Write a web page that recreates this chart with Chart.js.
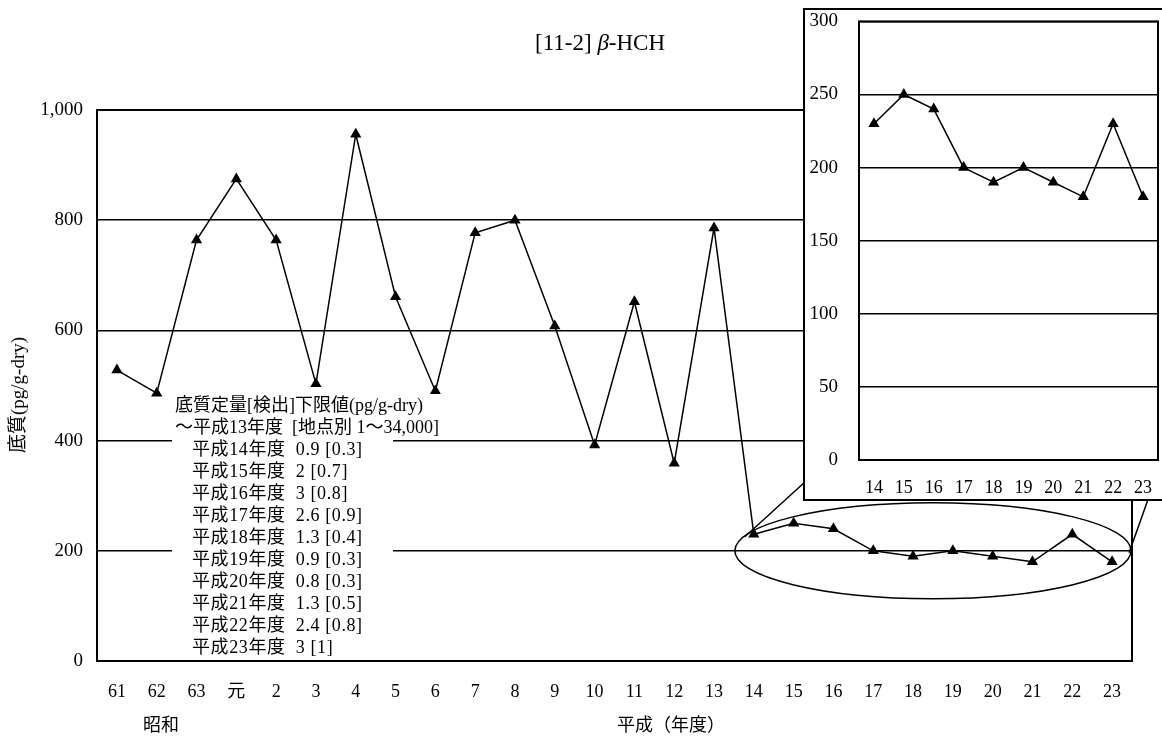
<!DOCTYPE html>
<html>
<head>
<meta charset="utf-8">
<script src="https://cdn.jsdelivr.net/npm/chart.js@4"></script>
<style>
  html, body { margin: 0; padding: 0; background: #fff; overflow: hidden; }
  body { width: 1162px; height: 739px; position: relative; font-family: "Liberation Serif", "Noto Sans CJK JP", serif; color: #000; }
  #main { position: absolute; left: 0; top: 0; width: 1162px; height: 739px; }
  .txt { position: absolute; white-space: pre; font-size: 18px; line-height: 22px; }
  #title { left: 535px; top: 30px; font-size: 23px; line-height: 26px; }
  #ytitle { left: 18px; top: 395px; font-size: 19px; transform: translate(-50%, -50%) rotate(-90deg); }
  #note { position: absolute; left: 172px; top: 394px; }
  #note div { white-space: pre; font-size: 18px; line-height: 22px; background: #fff; }
  #note .top { width: 316px; padding-left: 3px; box-sizing: border-box; }
  #note .sub { width: 221px; padding-left: 20px; box-sizing: border-box; letter-spacing: 0.6px; }
  #insetBox { position: absolute; left: 803px; top: 8px; width: 370px; height: 493px; border: 2px solid #000; box-sizing: border-box; background: #fff; }
  #inset { display: block; width: 366px; height: 489px; }
</style>
</head>
<body>
<canvas id="main" width="1162" height="739"></canvas>

<div id="title" class="txt">[11-2] <i>β</i>-HCH</div>
<div id="ytitle" class="txt">底質(pg/g-dry)</div>
<div class="txt" style="left:143px; top:714px;">昭和</div>
<div class="txt" style="left:617px; top:714px;">平成（年度）</div>

<div id="note">
  <div class="top">底質定量[検出]下限値(pg/g-dry)</div>
  <div class="top">～平成13年度  [地点別 1～34,000]</div>
  <div class="sub">平成14年度  0.9 [0.3]</div>
  <div class="sub">平成15年度  2 [0.7]</div>
  <div class="sub">平成16年度  3 [0.8]</div>
  <div class="sub">平成17年度  2.6 [0.9]</div>
  <div class="sub">平成18年度  1.3 [0.4]</div>
  <div class="sub">平成19年度  0.9 [0.3]</div>
  <div class="sub">平成20年度  0.8 [0.3]</div>
  <div class="sub">平成21年度  1.3 [0.5]</div>
  <div class="sub">平成22年度  2.4 [0.8]</div>
  <div class="sub">平成23年度  3 [1]</div>
</div>

<div id="insetBox"><canvas id="inset" width="366" height="489"></canvas></div>

<script>
// 年度ラベル (昭和61 ～ 平成23)
const categories = ['61', '62', '63', '元', '2', '3', '4', '5', '6', '7', '8', '9', '10',
  '11', '12', '13', '14', '15', '16', '17', '18', '19', '20', '21', '22', '23']
// 底質 pg/g-dry
const values = [528, 486, 764, 875, 764, 503, 956, 661, 490, 777, 800, 608, 392,
  652, 359, 786, 230, 250, 240, 200, 190, 200, 190, 180, 230, 180]

// 拡大図 (平成14 ～ 23)
const insetCategories = ['14', '15', '16', '17', '18', '19', '20', '21', '22', '23']
const insetValues = [230, 250, 240, 200, 190, 200, 190, 180, 230, 180]

const mainTicks = { min: 0, max: 1000, step: 200 }
const insetTicks = { min: 0, max: 300, step: 50 }

const FONT = '"Liberation Serif", "Noto Sans CJK JP", serif'

// プロット枠
const boxPlugin = {
  id: 'box',
  afterDraw(chart) {
    const { ctx, chartArea: a } = chart
    ctx.save()
    ctx.strokeStyle = '#000'
    ctx.lineWidth = 2
    ctx.strokeRect(a.left, a.top, a.right - a.left, a.bottom - a.top)
    ctx.restore()
  }
}

// 平成14～23 を囲む楕円と拡大図への引出線
const ellipsePlugin = {
  id: 'ellipse',
  afterDatasetsDraw(chart) {
    const { ctx, scales } = chart
    const x0 = scales.x.getPixelForValue(16)
    const x1 = scales.x.getPixelForValue(25)
    const cx = (x0 + x1) / 2
    const cy = scales.y.getPixelForValue(200)
    const rx = (x1 - x0) / 2 + 19
    const ry = 48
    ctx.save()
    ctx.strokeStyle = '#000'
    ctx.lineWidth = 1.5
    ctx.beginPath()
    ctx.ellipse(cx, cy, rx, ry, 0, 0, Math.PI * 2)
    ctx.stroke()
    ctx.beginPath()
    ctx.moveTo(cx - rx + 10, cy - 14)
    ctx.lineTo(cx - rx + 100, cy - 96)
    ctx.moveTo(cx + rx - 2, cy + 2)
    ctx.lineTo(cx + rx + 20, cy - 60)
    ctx.stroke()
    ctx.restore()
  }
}

function lineDataset(data) {
  return {
    data: data,
    borderColor: '#000',
    borderWidth: 1.5,
    backgroundColor: '#000',
    pointStyle: 'triangle',
    pointRadius: 6.5,
    pointBorderWidth: 0,
    tension: 0
  }
}

new Chart(document.getElementById('main'), {
  type: 'line',
  data: { labels: categories, datasets: [lineDataset(values)] },
  options: {
    responsive: false,
    animation: false,
    layout: { padding: { top: 110, right: 30, left: 0, bottom: 0 } },
    plugins: { legend: { display: false }, tooltip: { enabled: false } },
    scales: {
      x: {
        offset: true,
        grid: { display: false, drawTicks: false },
        border: { display: false },
        ticks: { color: '#000', font: { family: FONT, size: 18 }, padding: 20, maxRotation: 0, autoSkip: false },
        afterFit(s) { s.height = 78 }
      },
      y: {
        min: mainTicks.min,
        max: mainTicks.max,
        grid: { color: '#000', lineWidth: 1.5, drawTicks: false },
        border: { display: false },
        ticks: {
          stepSize: mainTicks.step,
          color: '#000',
          font: { family: FONT, size: 19 },
          padding: 14,
          callback: v => v.toLocaleString('en-US')
        },
        afterFit(s) { s.width = 97 }
      }
    }
  },
  plugins: [ellipsePlugin, boxPlugin]
})

new Chart(document.getElementById('inset'), {
  type: 'line',
  data: { labels: insetCategories, datasets: [lineDataset(insetValues)] },
  options: {
    responsive: false,
    animation: false,
    layout: { padding: { top: 10, right: 13, left: 0, bottom: 0 } },
    plugins: { legend: { display: false }, tooltip: { enabled: false } },
    scales: {
      x: {
        offset: true,
        grid: { display: false, drawTicks: false },
        border: { display: false },
        ticks: { color: '#000', font: { family: FONT, size: 18 }, padding: 17, maxRotation: 0, autoSkip: false },
        afterFit(s) { s.height = 39 }
      },
      y: {
        min: insetTicks.min,
        max: insetTicks.max,
        // 透明な目盛線で数字を枠から離す (ticks.padding だと上端がずれる)
        grid: { color: '#000', lineWidth: 1.5, drawTicks: true, tickLength: 21, tickColor: 'rgba(0,0,0,0)' },
        border: { display: false },
        ticks: { stepSize: insetTicks.step, color: '#000', font: { family: FONT, size: 19 }, padding: 0 },
        afterFit(s) { s.width = 54 }
      }
    }
  },
  plugins: [boxPlugin]
})
</script>
</body>
</html>
